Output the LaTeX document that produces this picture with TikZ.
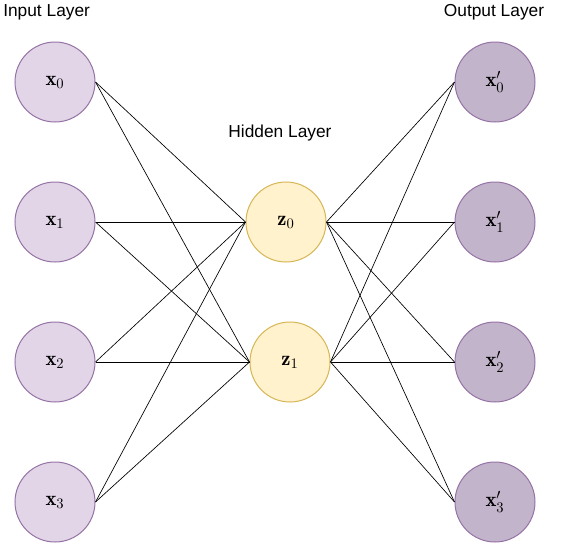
\documentclass[tikz,border=0pt]{standalone}
\usepackage{amsmath}
\usepackage{fontspec}
\usepackage{tikz}
\usepackage{xcolor}
\newfontfamily\layerfont{Liberation Sans}
\definecolor{inputfill}{RGB}{225,213,231}
\definecolor{inputline}{RGB}{150,115,166}
\definecolor{hiddenfill}{RGB}{255,242,204}
\definecolor{hiddenline}{RGB}{214,182,86}
\definecolor{outputfill}{RGB}{194,180,202}
\tikzset{
    neuron/.style={circle,minimum size=60pt,inner sep=0pt,line width=0.75pt,font=\fontsize{15.5}{18}\selectfont},
    inneuron/.style={neuron,draw=inputline,fill=inputfill},
    hidneuron/.style={neuron,draw=hiddenline,fill=hiddenfill},
    outneuron/.style={neuron,draw=inputline,fill=outputfill},
    layername/.style={font=\layerfont\fontsize{13}{15}\selectfont,inner sep=0pt},
    link/.style={line width=0.5pt}
}
\begin{document}
\begin{tikzpicture}[x=0.75pt,y=-0.75pt]
        \useasboundingbox (0,0) rectangle (561,544);
        \draw (55,82) node[inneuron](x0) {$\mathbf{x}_0$};
        \draw (55,222) node[inneuron](x1) {$\mathbf{x}_1$};
        \draw (55,362) node[inneuron](x2) {$\mathbf{x}_2$};
        \draw (55,502) node[inneuron](x3) {$\mathbf{x}_3$};
        \draw (286,222) node[hidneuron](z0) {$\mathbf{z}_0$};
        \draw (290,362) node[hidneuron](z1) {$\mathbf{z}_1$};
        \draw (495,82) node[outneuron](y0) {$\mathbf{x}'_0$};
        \draw (495,222) node[outneuron](y1) {$\mathbf{x}'_1$};
        \draw (495,362) node[outneuron](y2) {$\mathbf{x}'_2$};
        \draw (495,502) node[outneuron](y3) {$\mathbf{x}'_3$};
        \draw[link] (x0.east) -- (z0.west);
        \draw[link] (x0.east) -- (z1.west);
        \draw[link] (x1.east) -- (z0.west);
        \draw[link] (x1.east) -- (z1.west);
        \draw[link] (x2.east) -- (z0.west);
        \draw[link] (x2.east) -- (z1.west);
        \draw[link] (x3.east) -- (z0.west);
        \draw[link] (x3.east) -- (z1.west);
        \draw[link] (z0.east) -- (y0.west);
        \draw[link] (z0.east) -- (y1.west);
        \draw[link] (z0.east) -- (y2.west);
        \draw[link] (z0.east) -- (y3.west);
        \draw[link] (z1.east) -- (y0.west);
        \draw[link] (z1.east) -- (y1.west);
        \draw[link] (z1.east) -- (y2.west);
        \draw[link] (z1.east) -- (y3.west);
        \draw (3,12) node[layername,anchor=west](inlabel) {Input Layer};
        \draw (280,133) node[layername](hidlabel) {Hidden Layer};
        \draw (494,12) node[layername](outlabel) {Output Layer};
    \end{tikzpicture}
\end{document}
